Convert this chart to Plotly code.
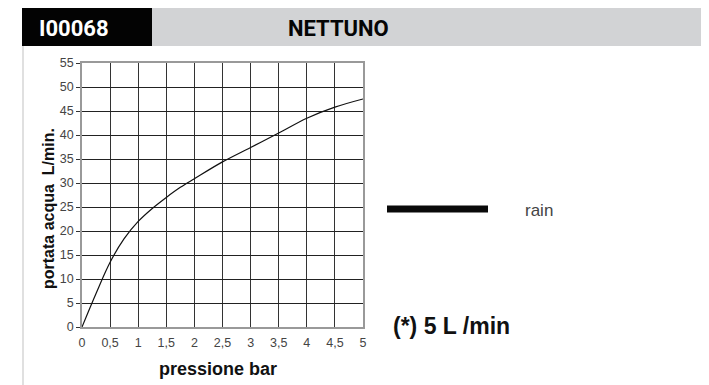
import plotly.graph_objects as go

pressure = [0, 0.25, 0.5, 0.75, 1, 1.25, 1.5, 1.75, 2, 2.5, 3, 3.5, 4, 4.5, 5]
flow = [0, 7, 13.5, 18.4, 22.0, 24.7, 27.0, 29.1, 30.9, 34.4, 37.4, 40.4, 43.5, 45.8, 47.5]
x_ticks = [0, 0.5, 1, 1.5, 2, 2.5, 3, 3.5, 4, 4.5, 5]
x_tick_labels = ["0", "0,5", "1", "1,5", "2", "2,5", "3", "3,5", "4", "4,5", "5"]
y_ticks = list(range(0, 60, 5))
series_name = "rain"
code_label = "I00068"
model_label = "NETTUNO"
note_label = "(*) 5 L /min"

OFF = 8  # page body margin
W, H = 709 - OFF, 385 - OFF
# plot area in window pixels
L, R, T, B = 82, 363, 63, 327


def px(x):
    return (x - L) / (R - L)


def py(y):
    return (B - y) / (B - T)


fig = go.Figure()
fig.add_trace(go.Scatter(x=pressure, y=flow, mode="lines", name=series_name,
                         line=dict(color="#111", width=1.2, shape="spline", smoothing=1),
                         showlegend=False))

font = "Liberation Sans, Arial, sans-serif"
fig.update_layout(
    width=W, height=H,
    margin=dict(l=L - OFF, r=709 - R, t=T - OFF, b=385 - B),
    paper_bgcolor="white", plot_bgcolor="white",
    font=dict(family=font, color="#333", size=12),
    xaxis=dict(range=[0, 5], tickvals=x_ticks, ticktext=x_tick_labels,
               showgrid=True, gridcolor="#333", gridwidth=1,
               showline=True, linecolor="#999", linewidth=1.5, mirror=True,
               ticks="", zeroline=False, ticklabelstandoff=3,
               tickfont=dict(size=12.5, color="#444"), fixedrange=True),
    yaxis=dict(range=[0, 55], tickvals=y_ticks,
               showgrid=True, gridcolor="#222", gridwidth=1,
               showline=True, linecolor="#999", linewidth=1.5, mirror=True,
               ticks="outside", ticklen=4, tickcolor="#333", zeroline=False,
               tickfont=dict(size=12.5, color="#444"), fixedrange=True),
)

shapes = [
    dict(type="rect", xref="paper", yref="paper", x0=px(152), x1=px(712), y0=py(46), y1=py(7),
         fillcolor="#d2d3d5", line=dict(width=0), layer="below"),
    dict(type="rect", xref="paper", yref="paper", x0=px(22), x1=px(152), y0=py(46), y1=py(7),
         fillcolor="#030303", line=dict(width=0)),
    dict(type="line", xref="paper", yref="paper", x0=px(23), x1=px(23), y0=py(46), y1=py(390),
         line=dict(color="#e0e0e0", width=2)),
    dict(type="line", xref="paper", yref="paper", x0=px(387), x1=px(488), y0=py(209), y1=py(209),
         line=dict(color="#0a0a0a", width=7)),
]
fig.update_layout(shapes=shapes)

hdr_font = "Roboto, Liberation Sans, Arial, sans-serif"
ann = [
    dict(text=f"<b>{code_label}</b>", x=px(37), y=py(28), xanchor="left", yanchor="middle",
         font=dict(family=hdr_font, size=22, color="white")),
    dict(text=f"<b>{model_label}</b>", x=px(338), y=py(28), xanchor="center", yanchor="middle",
         font=dict(family=hdr_font, size=22, color="#050505")),
    dict(text=series_name, x=px(523), y=py(210), xanchor="left", yanchor="middle",
         font=dict(family=font, size=17, color="#444")),
    dict(text=f"<b>{note_label}</b>", x=px(391), y=py(326), xanchor="left", yanchor="middle",
         font=dict(family=font, size=23, color="#111")),
    dict(text="<b>pressione bar</b>", x=px(218), y=py(369), xanchor="center", yanchor="middle",
         font=dict(family=font, size=18, color="#111")),
    dict(text="<b>portata acqua  L/min.</b>", x=px(48), y=py(209), xanchor="center", yanchor="middle",
         textangle=-90, font=dict(family=font, size=16, color="#111")),
]
for a in ann:
    a.update(xref="paper", yref="paper", showarrow=False)
fig.update_layout(annotations=ann)

fig.write_html("out.html", config={"displayModeBar": False})
